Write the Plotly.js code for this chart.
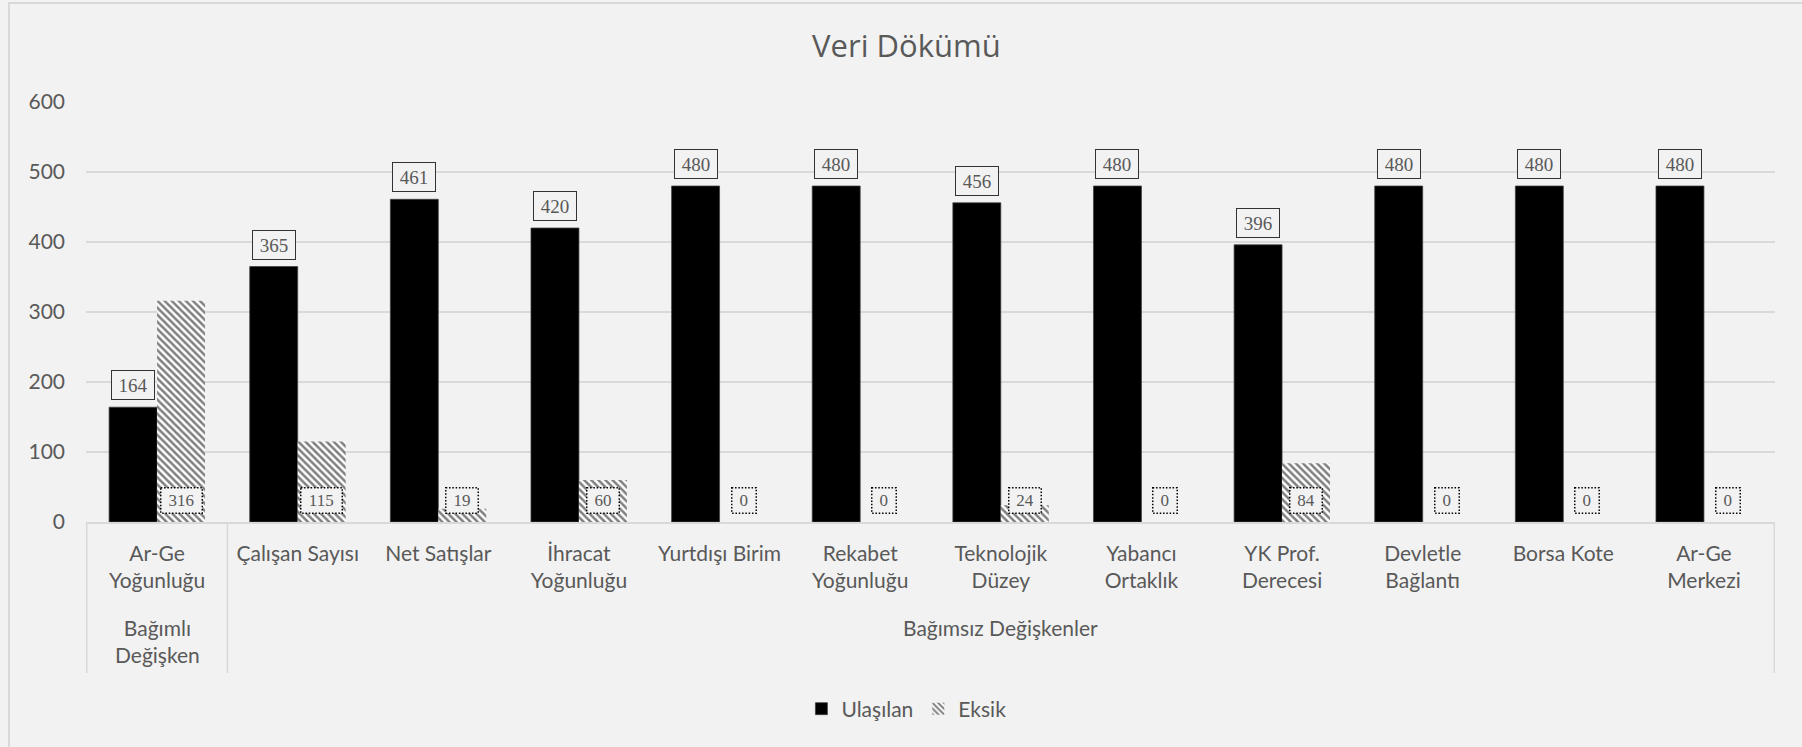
<!DOCTYPE html>
<html>
<head>
<meta charset="utf-8">
<script src="https://cdn.plot.ly/plotly-3.0.1.min.js"></script>
<style>
  html, body { margin: 0; padding: 0; background: #f2f2f2; }
  #chart { width: 1802px; height: 747px; }
  #frame { position: absolute; left: 8px; top: 2px; width: 1810px; height: 760px;
           border-left: 2px solid #d9d9d9; border-top: 2px solid #d9d9d9; pointer-events: none; }
</style>
</head>
<body>
<div id="chart"></div>
<div id="frame"></div>
<script>
// ---- data ----
const categories = ["Ar-Ge<br>Yoğunluğu", "Çalışan Sayısı", "Net Satışlar", "İhracat<br>Yoğunluğu",
  "Yurtdışı Birim", "Rekabet<br>Yoğunluğu", "Teknolojik<br>Düzey", "Yabancı<br>Ortaklık",
  "YK Prof.<br>Derecesi", "Devletle<br>Bağlantı", "Borsa Kote", "Ar-Ge<br>Merkezi"];
const groups = ["Bağımlı<br>Değişken", "Bağımsız Değişkenler", "Bağımsız Değişkenler",
  "Bağımsız Değişkenler", "Bağımsız Değişkenler", "Bağımsız Değişkenler", "Bağımsız Değişkenler",
  "Bağımsız Değişkenler", "Bağımsız Değişkenler", "Bağımsız Değişkenler", "Bağımsız Değişkenler",
  "Bağımsız Değişkenler"];
const ulasilan = [164, 365, 461, 420, 480, 480, 456, 480, 396, 480, 480, 480];
const eksik = [316, 115, 19, 60, 0, 0, 24, 0, 84, 0, 0, 0];
const seriesNames = ["Ulaşılan", "Eksik"];
const chartTitle = "Veri Dökümü";
const yTicks = [0, 100, 200, 300, 400, 500, 600];

const gray = "#595959";
const uiFont = "Lato, 'Open Sans', sans-serif";
const titleFont = "'Open Sans', 'Noto Sans', sans-serif";
const serifFont = "'Liberation Serif', 'DejaVu Serif', serif";

const traces = [
  {
    type: "bar", name: seriesNames[0], x: categories, y: ulasilan,
    marker: { color: "#000000", line: { color: "#404040", width: 0.75 } },
    hoverinfo: "skip"
  },
  {
    type: "bar", name: seriesNames[1], x: categories, y: eksik,
    marker: { color: "#ffffff", line: { width: 0 },
      pattern: { shape: "\\", fgcolor: "#000000", bgcolor: "#ffffff", size: 5, solidity: 0.5, fillmode: "overlay" } },
    hoverinfo: "skip"
  }
];

const annotations = [];
ulasilan.forEach((v, i) => {
  annotations.push({
    xref: "x", yref: "y", x: i, y: v, xshift: -24, yshift: 7,
    xanchor: "center", yanchor: "bottom", showarrow: false,
    text: String(v), font: { family: serifFont, size: 19, color: gray },
    bordercolor: "#333333", borderwidth: 1, borderpad: 2, bgcolor: "#f2f2f2",
    width: 38, height: 24
  });
});
eksik.forEach((v, i) => {
  const n = String(v).length;
  annotations.push({
    xref: "x", yref: "y", x: i, y: 0, xshift: 24, yshift: 8,
    xanchor: "center", yanchor: "bottom", showarrow: false,
    text: String(v), font: { family: serifFont, size: 17, color: gray },
    bordercolor: "#000000", borderwidth: 1.5, borderpad: 1.5, bgcolor: "#f2f2f2",
    width: 11 + 8.5 * n, height: 21
  });
});

// group labels and dividers from runs of the groups array
const shapes = [];
let runStart = 0;
for (let i = 1; i <= groups.length; i++) {
  if (i === groups.length || groups[i] !== groups[runStart]) {
    const end = i - 1;
    annotations.push({
      xref: "x", yref: "paper", x: (runStart + end) / 2, y: 0, yshift: -91,
      xanchor: "center", yanchor: "top", showarrow: false,
      text: groups[runStart], font: { family: uiFont, size: 21, color: gray }
    });
    shapes.push({ type: "line", xref: "x", yref: "paper", x0: runStart - 0.5, x1: runStart - 0.5,
      y0: 0, y1: -151 / 420, line: { color: "#d9d9d9", width: 1.5 } });
    if (i === groups.length) {
      shapes.push({ type: "line", xref: "x", yref: "paper", x0: end + 0.5, x1: end + 0.5,
        y0: 0, y1: -151 / 420, line: { color: "#d9d9d9", width: 1.5 } });
    }
    runStart = i;
  }
}

const layout = {
  width: 1802, height: 747,
  paper_bgcolor: "#f2f2f2", plot_bgcolor: "#f2f2f2",
  margin: { l: 86, r: 27, t: 102, b: 225 },
  font: { family: uiFont, size: 21, color: gray },
  title: { text: chartTitle, font: { family: titleFont, size: 31, color: gray },
    xref: "container", yref: "container", x: 0.503, y: 1 - 46 / 747, xanchor: "center", yanchor: "middle" },
  barmode: "group", bargap: 0.318, bargroupgap: 0,
  xaxis: {
    type: "category", showgrid: false, zeroline: false,
    showline: true, linecolor: "#d9d9d9", linewidth: 1.5,
    ticks: "", tickfont: { family: uiFont, size: 21, color: gray },
    ticklabelstandoff: 12, tickangle: 0
  },
  yaxis: {
    range: [0, 600], tickvals: yTicks, showgrid: true, gridcolor: "#d9d9d9", gridwidth: 1.5,
    zeroline: false, showline: false, ticks: "",
    tickfont: { family: uiFont, size: 21, color: gray }, ticklabelstandoff: 20
  },
  legend: {
    orientation: "h", xref: "container", yref: "container",
    x: 0.503, y: 1 - 709 / 747, xanchor: "center", yanchor: "middle",
    font: { family: uiFont, size: 21, color: gray }, bgcolor: "rgba(0,0,0,0)",
    itemwidth: 30, tracegroupgap: 0
  },
  annotations: annotations,
  shapes: shapes,
  showlegend: true
};

Plotly.newPlot("chart", traces, layout, { staticPlot: true, displayModeBar: false }).then(() => {
  const start = ulasilan.length, stop = ulasilan.length + eksik.length;
  document.querySelectorAll("g.annotation").forEach(g => {
    const idx = +g.getAttribute("data-index");
    if (idx >= start && idx < stop) {
      const r = g.querySelector("rect.bg");
      if (r) { r.style.strokeDasharray = "1.5,1.8"; }
    }
  });
});
</script>
</body>
</html>
